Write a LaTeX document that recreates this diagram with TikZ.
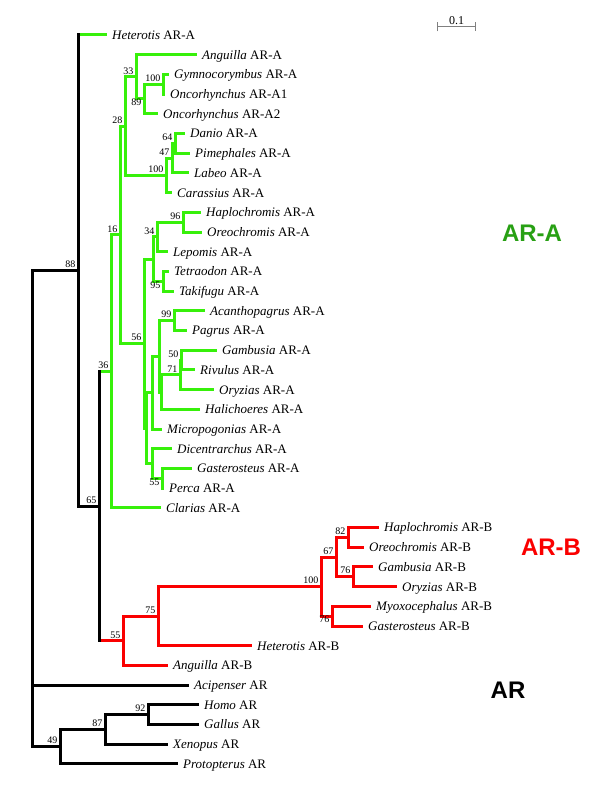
\documentclass[tikz,border=0pt]{standalone}
\usepackage{fontspec}
\setmainfont{Liberation Serif}
\newfontfamily\cladefont{Liberation Sans}
\usepackage{tikz}
\usetikzlibrary{arrows.meta,calc,positioning}
\definecolor{brgreen}{RGB}{55,240,10}
\definecolor{argreen}{RGB}{40,160,20}
\definecolor{brred}{RGB}{250,0,0}

\tikzset{
  br/.style={line width=3pt,line cap=rect},
  grn/.style={br,draw=brgreen},
  rd/.style={br,draw=brred},
  blk/.style={br,draw=black},
  leaf/.style={anchor=base west,inner sep=0pt,xshift=7pt,yshift=-4.4pt,font=\fontsize{13}{15}\selectfont},
  bs/.style={anchor=south east,inner sep=0pt,xshift=-2.5pt,yshift=2.5pt,font=\fontsize{10}{11}\selectfont},
  bsb/.style={bs,anchor=north east,yshift=-2.5pt},
  clade/.style={font=\cladefont\bfseries\fontsize{24}{26}\selectfont,inner sep=0pt},
}

\begin{document}
\begin{tikzpicture}[x=1pt,y=-1pt]
  \useasboundingbox (0,0) rectangle (600,789);

  % leaves, top to bottom
  \foreach \nm/\tx/\gen/\suf [count=\i] in {
      hetA/105/Heterotis/AR-A, angA/195/Anguilla/AR-A, gymA/167/Gymnocorymbus/AR-A,
      oncAa/163/Oncorhynchus/AR-A1, oncAb/156/Oncorhynchus/AR-A2, danA/183/Danio/AR-A,
      pimA/188/Pimephales/AR-A, labA/187/Labeo/AR-A, carA/170/Carassius/AR-A,
      hapA/199/Haplochromis/AR-A, oreA/200/Oreochromis/AR-A, lepA/166/Lepomis/AR-A,
      tetA/167/Tetraodon/AR-A, takA/172/Takifugu/AR-A, acaA/203/Acanthopagrus/AR-A,
      pagA/185/Pagrus/AR-A, gamA/215/Gambusia/AR-A, rivA/193/Rivulus/AR-A,
      oryA/212/Oryzias/AR-A, halA/198/Halichoeres/AR-A, micA/160/Micropogonias/AR-A,
      dicA/170/Dicentrarchus/AR-A, gasA/190/Gasterosteus/AR-A, perA/162/Perca/AR-A,
      claA/159/Clarias/AR-A,
      hapB/377/Haplochromis/AR-B, oreB/362/Oreochromis/AR-B, gamB/371/Gambusia/AR-B,
      oryB/395/Oryzias/AR-B, myoB/369/Myoxocephalus/AR-B, gasB/361/Gasterosteus/AR-B,
      hetB/250/Heterotis/AR-B, angB/166/Anguilla/AR-B,
      aciR/187/Acipenser/AR, homR/197/Homo/AR, galR/197/Gallus/AR,
      xenR/166/Xenopus/AR, proR/176/Protopterus/AR}
  {
    \coordinate (\nm) at (\tx,{35+19.7*(\i-1)});
    \node[leaf] (\nm-l) at (\nm) {\textit{\gen} \suf};
  }

  % internal nodes
  \coordinate (n64) at (175,143.35);
  \coordinate (n47) at (172,158.1);
  \coordinate (ncy) at (166,175.35);
  \coordinate (ngo) at (163,84.25);
  \coordinate (n89) at (144,99.0);
  \coordinate (n33) at (136,76.85);
  \coordinate (n28) at (125,126.1);
  \coordinate (n96) at (183,222.15);
  \coordinate (n34) at (157,236.9);
  \coordinate (n95) at (163,281.25);
  \coordinate (nup) at (153,259.1);
  \coordinate (n99) at (174,320.65);
  \coordinate (n50) at (181,360.05);
  \coordinate (n71) at (180,374.8);
  \coordinate (nhal) at (161,392.05);
  \coordinate (nacn) at (159,356.35);
  \coordinate (nmic) at (152,392.7);
  \coordinate (n55) at (162,478.25);
  \coordinate (ndic) at (152,463.5);
  \coordinate (nlow) at (146,428.1);
  \coordinate (n56) at (144,343.6);
  \coordinate (n16) at (120,234.85);
  \coordinate (n36) at (111,371.3);
  \coordinate (n82) at (348,537.35);
  \coordinate (n76a) at (353,576.75);
  \coordinate (n67) at (336,557.05);
  \coordinate (n76b) at (332,616.15);
  \coordinate (nhun) at (321,586.6);
  \coordinate (n75) at (158,616.15);
  \coordinate (n55r) at (123,640.8);
  \coordinate (n65) at (99,506.05);
  \coordinate (n88) at (78,270.5);
  \coordinate (n92) at (148,714.65);
  \coordinate (n87) at (105,729.4);
  \coordinate (n49) at (60,746.65);
  \coordinate (root) at (32,508.6);

  % AR-A clade
  \foreach \p/\c in {n36/n16, n36/claA, n16/n28, n16/n56, n28/n33, n28/ncy,
      n33/angA, n33/n89, n89/ngo, n89/oncAb, ngo/gymA, ngo/oncAa,
      ncy/n47, ncy/carA, n47/n64, n47/labA, n64/danA, n64/pimA,
      n56/nup, n56/nlow, nup/n34, nup/n95, n34/n96, n34/lepA,
      n96/hapA, n96/oreA, n95/tetA, n95/takA,
      nlow/nmic, nlow/ndic, nmic/nacn, nmic/micA, nacn/n99, nacn/nhal,
      n99/acaA, n99/pagA, nhal/n71, nhal/halA, n71/n50, n71/oryA,
      n50/gamA, n50/rivA, ndic/dicA, ndic/n55, n55/gasA, n55/perA}
    \draw[grn] (\p) |- (\c);
  \draw[grn] (n88 |- hetA) -- (hetA);
  \draw[grn] (n65 |- n36) -- (n36);

  % AR-B clade
  \foreach \p/\c in {n55r/n75, n55r/angB, n75/nhun, n75/hetB, nhun/n67, nhun/n76b,
      n67/n82, n67/n76a, n82/hapB, n82/oreB, n76a/gamB, n76a/oryB,
      n76b/myoB, n76b/gasB}
    \draw[rd] (\p) |- (\c);
  \draw[rd] (n65 |- n55r) -- (n55r);

  % backbone and outgroups
  \foreach \p/\c in {root/n88, root/aciR, root/n49, n49/n87, n49/proR,
      n87/n92, n87/xenR, n92/homR, n92/galR, n88/n65}
    \draw[blk] (\p) |- (\c);
  \draw[blk] (n88) -- (n88 |- hetA);
  \draw[blk] (n65 |- n36) -- (n65 |- n55r);

  % bootstrap values
  \foreach \n/\v in {n88/88, n33/33, ngo/100, n28/28, n64/64, n47/47, ncy/100,
      n96/96, n34/34, n16/16, n99/99, n56/56, n50/50, n71/71, n36/36, n65/65,
      n82/82, n67/67, n76a/76, nhun/100, n75/75, n55r/55, n92/92, n87/87, n49/49}
    \node[bs] (\n-bs) at (\n) {\v};
  \foreach \n/\v in {n89/89, n95/95, n55/55, n76b/76}
    \node[bsb] (\n-bs) at (\n) {\v};

  % clade names
  \node[clade,text=argreen] (cladeA) at (532,233) {AR-A};
  \node[clade,text=brred] (cladeB) at (551,547) {AR-B};
  \node[clade] (cladeR) at (508,690) {AR};

  % scale bar
  \coordinate (sbl) at (437,27);
  \coordinate (sbr) at (476,27);
  \draw[gray,line width=1pt,{Bar[width=9pt,line width=1pt]}-{Bar[width=9pt,line width=1pt]}] (sbl) -- (sbr);
  \node[anchor=south,inner sep=0pt,yshift=2pt,font=\fontsize{12}{13}\selectfont] (sblab) at ($(sbl)!.5!(sbr)$) {0.1};
\end{tikzpicture}
\end{document}
